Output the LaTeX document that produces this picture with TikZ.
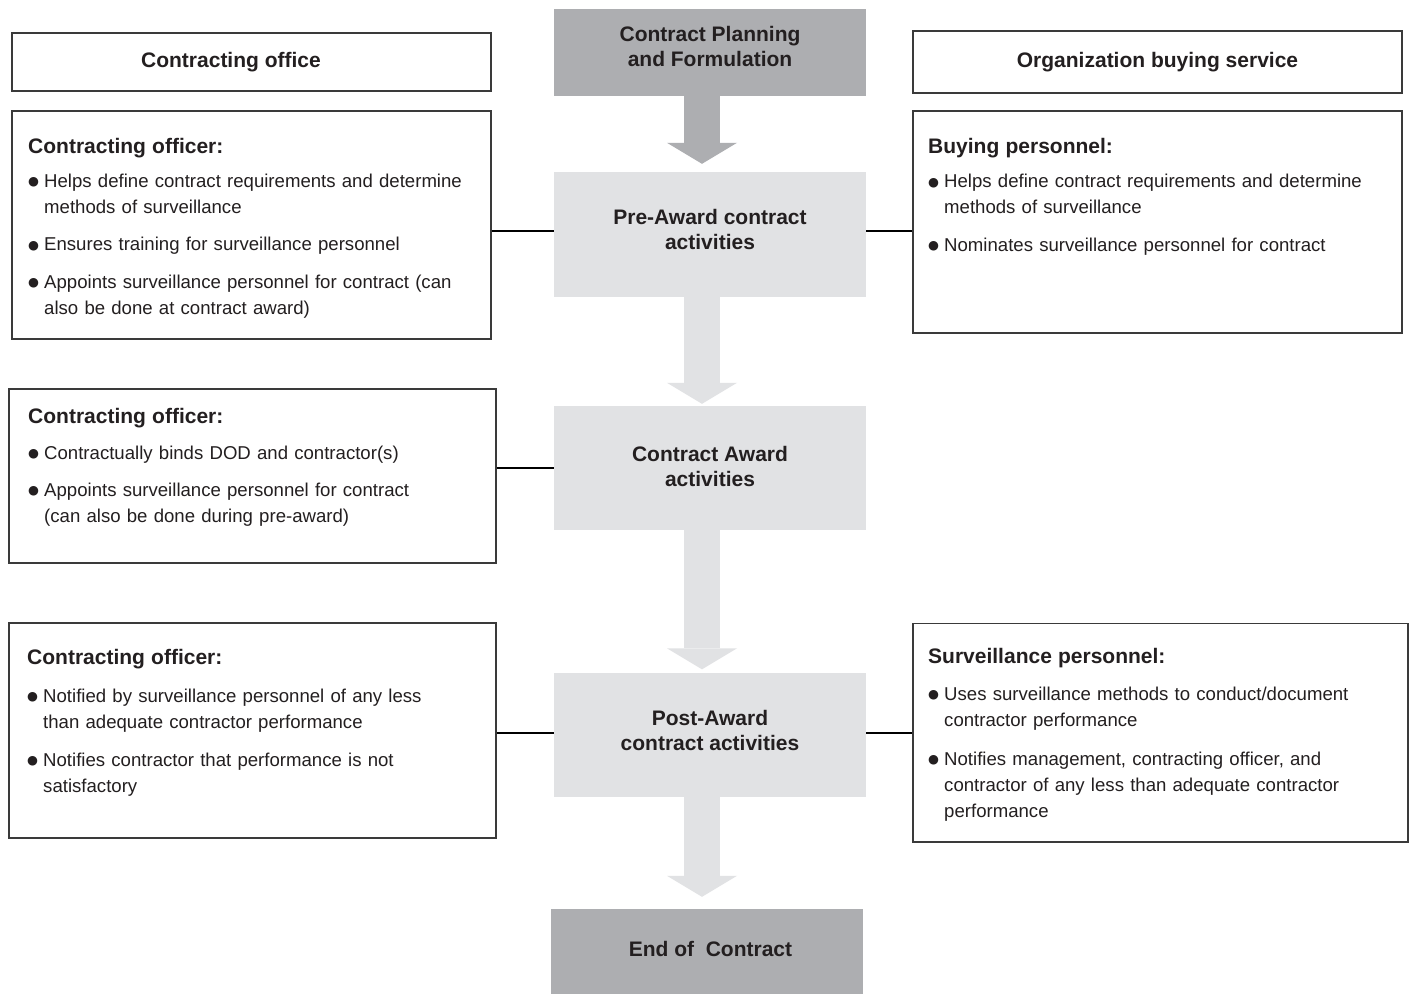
\documentclass[tikz,border=0pt]{standalone}
\usepackage{fontspec}
\setmainfont{Liberation Sans}
\newfontfamily\dejavu{DejaVu Sans}
\usetikzlibrary{arrows.meta}
\definecolor{darkbox}{HTML}{ADAEB1}
\definecolor{lightbox}{HTML}{E1E2E4}
\definecolor{edgegray}{HTML}{3A3A3A}
\definecolor{inkcol}{HTML}{231F20}
\newcommand{\bdot}{\raisebox{1.6pt}{\fontsize{12.5}{12.5}\selectfont\dejavu ●}}
\newcommand{\btitle}[1]{{\bfseries\fontsize{21}{26}\selectfont\rule{0pt}{20pt}#1\par}}
\newcommand{\bitem}[1]{{\noindent\hangindent=16pt\hangafter=1\makebox[16pt][l]{\bdot}#1\par}}
\tikzset{
  framebox/.style={draw=edgegray, line width=1.3pt, rectangle, inner sep=0pt},
  stagebox/.style={rectangle, inner sep=0pt, minimum width=312pt, text=inkcol,
    font=\bfseries\fontsize{21}{25}\selectfont, align=center},
  darkstage/.style={stagebox, fill=darkbox},
  lightstage/.style={stagebox, fill=lightbox},
  headtext/.style={font=\bfseries\fontsize{21}{26}\selectfont, text=inkcol},
  infotext/.style={anchor=north west, inner sep=0pt, text width=460pt, text=inkcol,
    font=\fontsize{18.6}{26}\selectfont, execute at begin node={\raggedright}},
  bigarrow/.style={line width=36pt, -{Triangle[width=70pt,length=21pt,line width=0pt]}},
  conn/.style={draw=black, line width=1.5pt}
}
\begin{document}
\begin{tikzpicture}[x=1pt,y=-1pt]
\useasboundingbox (0,0) rectangle (1413,994);
\fill[white] (0,0) rectangle (1413,994);

% column headers
\node[framebox, minimum width=479pt, minimum height=58pt, headtext] (hl) at (251.5,62) {Contracting office\hspace*{41pt}};
\node[framebox, minimum width=489pt, minimum height=62pt, headtext] (hr) at (1157.5,62) {Organization buying service};

% central stages
\node[darkstage, minimum height=87pt] (plan) at (710,52.5) {Contract Planning\\and Formulation\rule[-12pt]{0pt}{12pt}};
\node[lightstage, minimum height=125pt] (pre) at (710,234.5) {Pre-Award contract\\activities\rule[-10pt]{0pt}{10pt}};
\node[lightstage, minimum height=124pt] (award) at (710,468) {Contract Award\\activities\rule[-3pt]{0pt}{3pt}};
\node[lightstage, minimum height=124pt] (post) at (710,735) {Post-Award\\contract activities\rule[-10pt]{0pt}{10pt}};
\node[darkstage, minimum height=85pt] (endc) at (707,951.5) {\hspace*{7pt}End of\ \ Contract\rule[-5pt]{0pt}{5pt}};

% side boxes
\node[framebox, minimum width=479pt, minimum height=228pt] (b1) at (251.5,225) {};
\node[framebox, minimum width=489pt, minimum height=222pt] (r1) at (1157.5,222) {};
\node[framebox, minimum width=487pt, minimum height=174pt] (b2) at (252.5,476) {};
\node[framebox, minimum width=487pt, minimum height=215pt] (b3) at (252.5,730.5) {};
\node[framebox, minimum width=495pt, minimum height=218.5pt] (r3) at (1160.5,732.75) {};

% side box texts
\node[infotext] (t1) at (28,133.3) {\btitle{Contracting officer:}
\vspace{8pt}\bitem{Helps define contract requirements and determine\newline methods of surveillance}
\vspace{11.3pt}\bitem{Ensures training for surveillance personnel}
\vspace{11.3pt}\bitem{Appoints surveillance personnel for contract (can\newline also be done at contract award)}};

\node[infotext] (tr1) at (928,133.3) {\btitle{Buying personnel:}
\vspace{8.4pt}\bitem{Helps define contract requirements and determine\newline methods of surveillance}
\vspace{11.4pt}\bitem{Nominates surveillance personnel for contract}};

\node[infotext] (t2) at (28,403.3) {\btitle{Contracting officer:}
\vspace{9.7pt}\bitem{Contractually binds DOD and contractor(s)}
\vspace{11pt}\bitem{Appoints surveillance personnel for contract\newline (can also be done during pre-award)}};

\node[infotext] (t3) at (27,644.5) {\btitle{Contracting officer:}
\vspace{11.5pt}\bitem{Notified by surveillance personnel of any less\newline than adequate contractor performance}
\vspace{12pt}\bitem{Notifies contractor that performance is not\newline satisfactory}};

\node[infotext] (tr3) at (928,643.5) {\btitle{Surveillance personnel:}
\vspace{10.7pt}\bitem{Uses surveillance methods to conduct/document\newline contractor performance}
\vspace{13pt}\bitem{Notifies management, contracting officer, and\newline contractor of any less than adequate contractor\newline performance}};

% flow arrows
\coordinate (ax) at (702,0);
\draw[bigarrow, darkbox, shorten >=8pt] (plan.south -| ax) -- (pre.north -| ax);
\draw[bigarrow, lightbox, shorten >=2pt] (pre.south -| ax) -- (award.north -| ax);
\draw[bigarrow, lightbox, shorten >=3.5pt] (award.south -| ax) -- (post.north -| ax);
\draw[bigarrow, lightbox, shorten >=12pt] (post.south -| ax) -- (endc.north -| ax);

% connectors
\coordinate (ya) at (0,231);
\coordinate (yb) at (0,468);
\coordinate (yc) at (0,733);
\draw[conn] (b1.east |- ya) -- (pre.west |- ya);
\draw[conn] (pre.east |- ya) -- (r1.west |- ya);
\draw[conn] (b2.east |- yb) -- (award.west |- yb);
\draw[conn] (b3.east |- yc) -- (post.west |- yc);
\draw[conn] (post.east |- yc) -- (r3.west |- yc);
\end{tikzpicture}
\end{document}
